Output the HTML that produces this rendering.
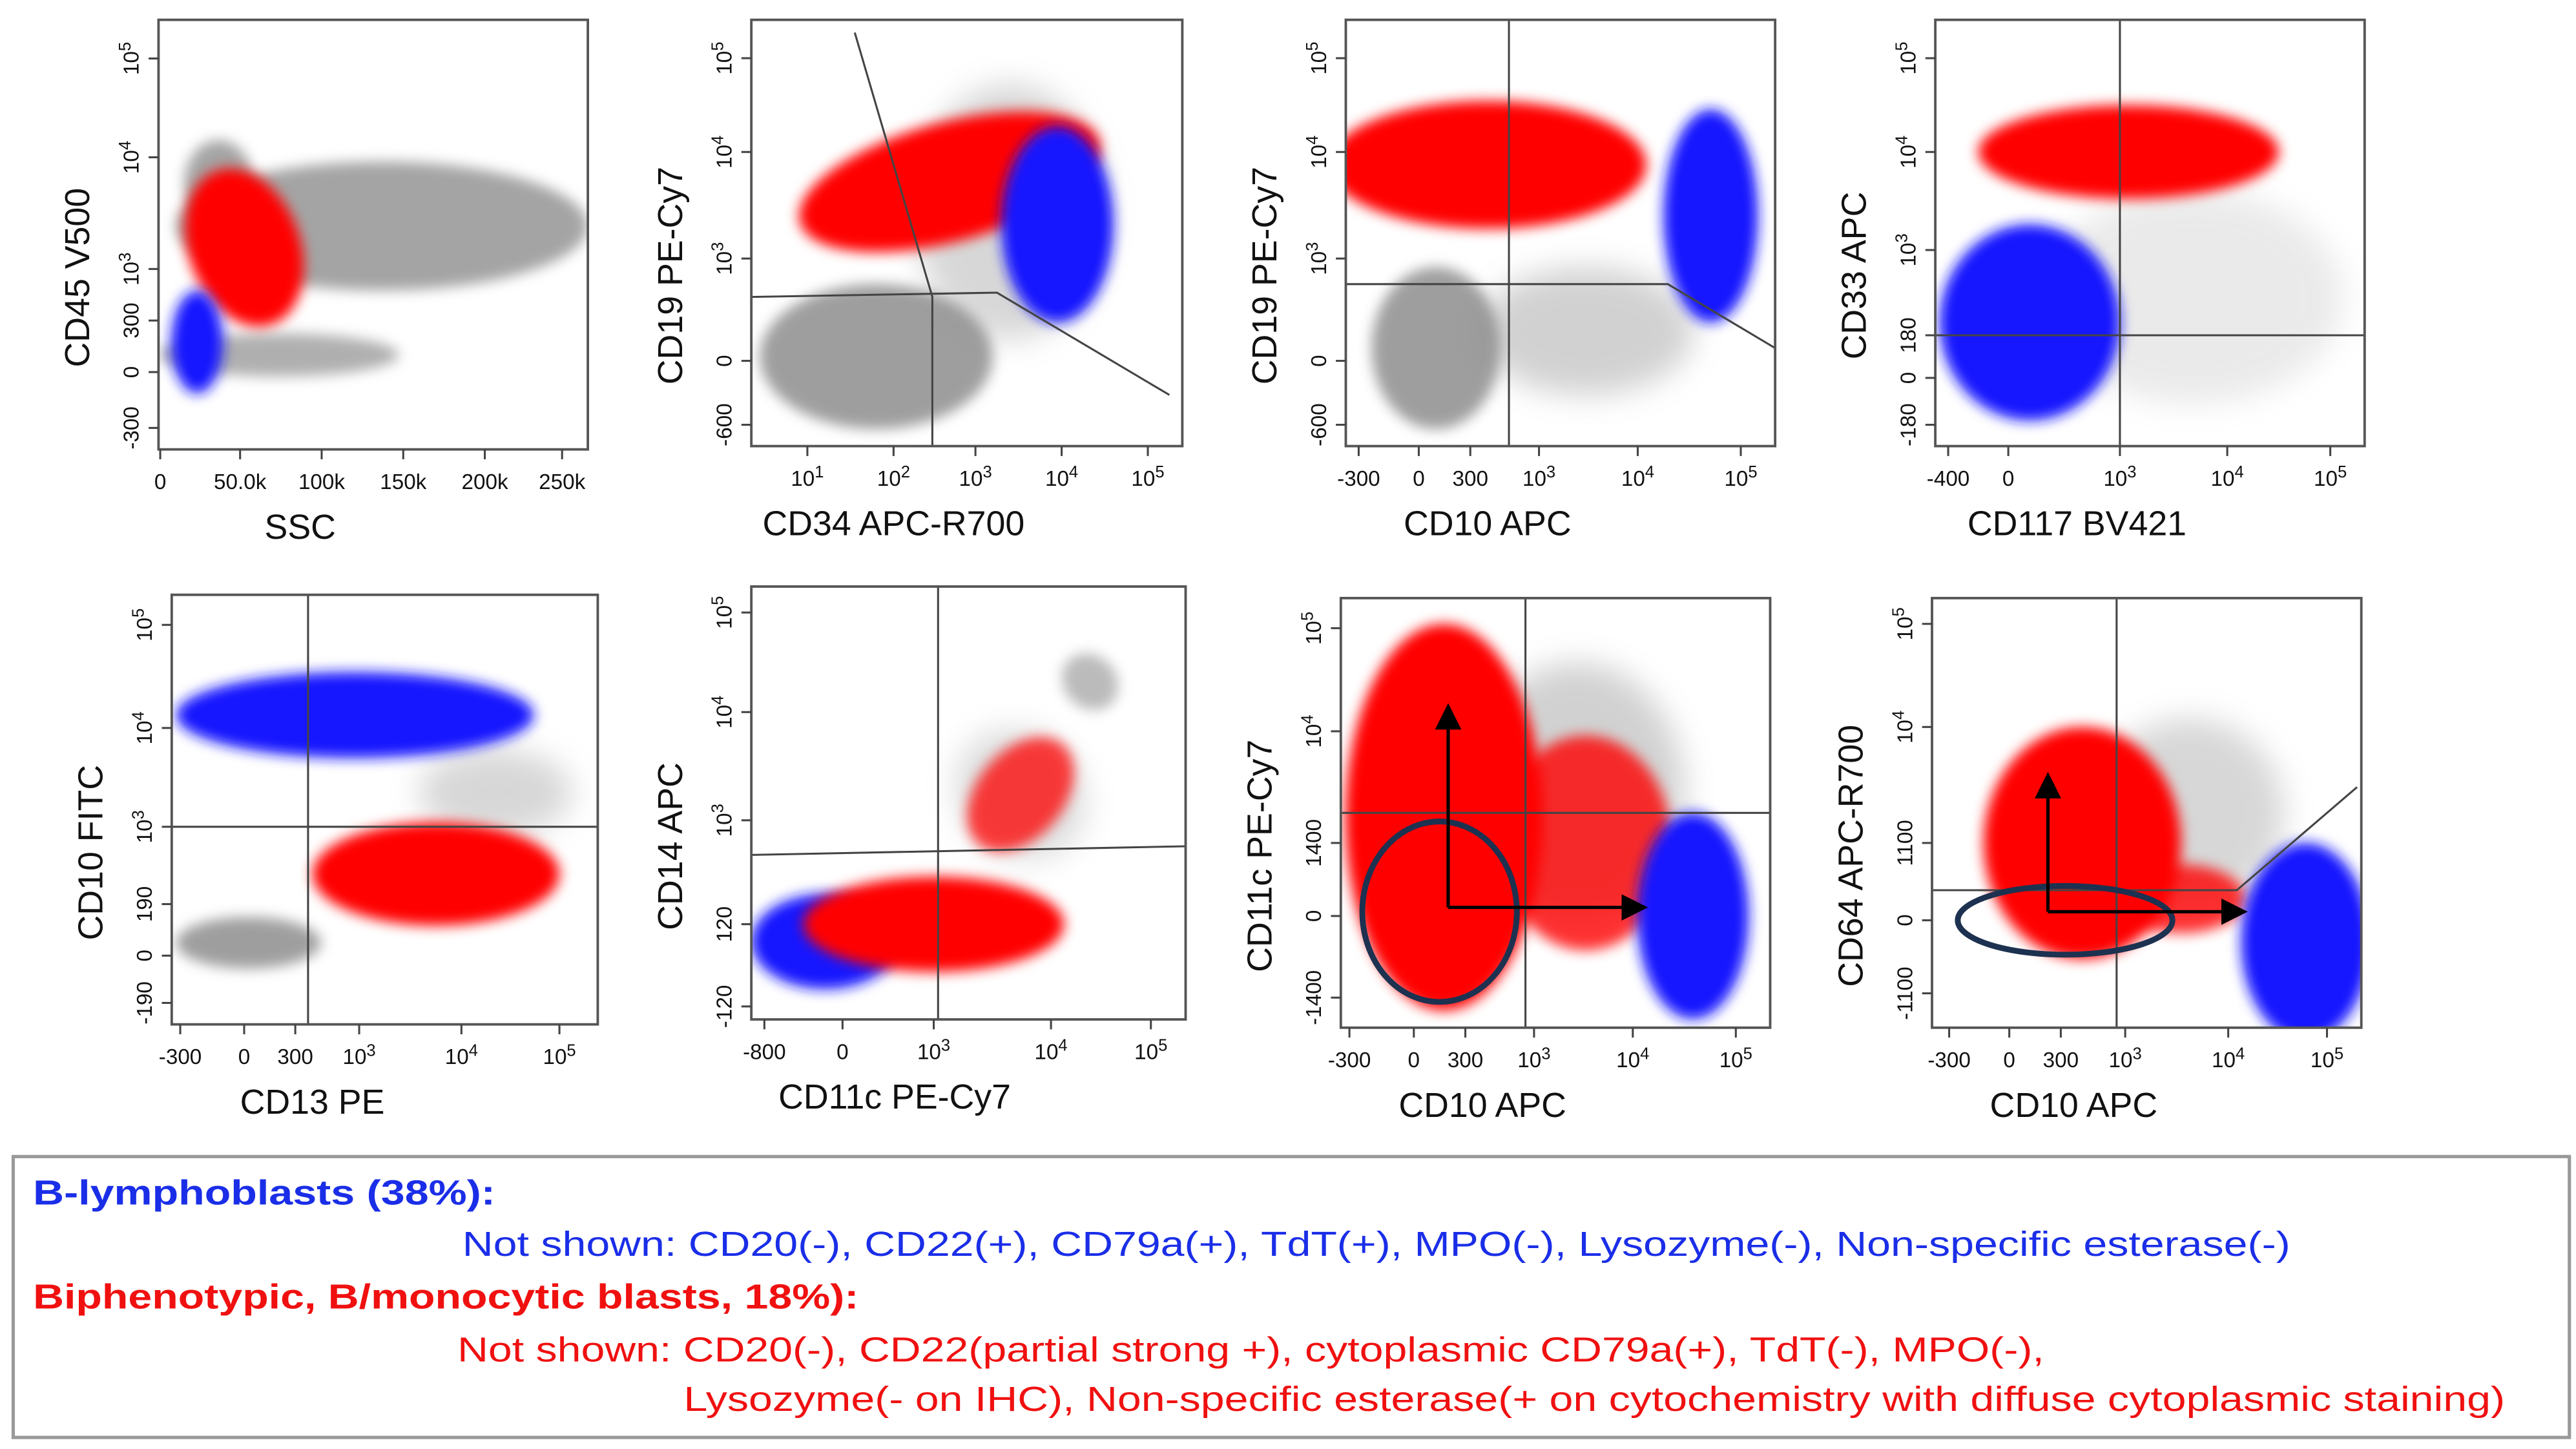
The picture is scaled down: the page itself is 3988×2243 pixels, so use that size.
<!DOCTYPE html>
<html><head><meta charset="utf-8"><style>
html,body{margin:0;padding:0;background:#fff;}
svg{display:block;}
text{font-family:"Liberation Sans",Arial,sans-serif;}
</style></head><body>
<svg id="fig" xmlns="http://www.w3.org/2000/svg" width="3988" height="2243" viewBox="0 0 1560 877" preserveAspectRatio="none">
<defs>
<filter id="blur" x="-50%" y="-50%" width="200%" height="200%"><feGaussianBlur stdDeviation="4"/></filter>
<filter id="blur2" x="-50%" y="-50%" width="200%" height="200%"><feGaussianBlur stdDeviation="9"/></filter>
<marker id="arr" markerWidth="8" markerHeight="8" refX="6" refY="4" orient="auto"><path d="M0,0 L8,4 L0,8 z" fill="#000"/></marker>
</defs>
<g id="plots"></g>
<g>
<rect x="8" y="700" width="1548" height="170" fill="#fff" stroke="#999" stroke-width="2"/>
<text x="20" y="729" font-size="21" font-weight="bold" fill="#1a2ee8" textLength="280" lengthAdjust="spacingAndGlyphs">B-lymphoblasts (38%):</text>
<text x="280" y="760" font-size="21" fill="#1a2ee8" textLength="1107" lengthAdjust="spacingAndGlyphs">Not shown: CD20(-), CD22(+), CD79a(+), TdT(+), MPO(-), Lysozyme(-), Non-specific esterase(-)</text>
<text x="20" y="792" font-size="21" font-weight="bold" fill="#f01010" textLength="500" lengthAdjust="spacingAndGlyphs">Biphenotypic, B/monocytic blasts, 18%):</text>
<text x="277" y="824" font-size="21" fill="#f01010" textLength="961" lengthAdjust="spacingAndGlyphs">Not shown: CD20(-), CD22(partial strong +), cytoplasmic CD79a(+), TdT(-), MPO(-),</text>
<text x="414" y="854" font-size="21" fill="#f01010" textLength="1103" lengthAdjust="spacingAndGlyphs">Lysozyme(- on IHC), Non-specific esterase(+ on cytochemistry with diffuse cytoplasmic staining)</text>
</g>
</svg>
<script>
// Panel boxes (layout) in display units
const panelBoxes = [[96,12,260,260],[455,12,261,258],[815,12,260,258],[1172,12,260,258],
  [104,360,258,260],[455,355,263,262],[812,362,260,260],[1170,362,260,260]];
const xTitles = ["SSC","CD34 APC-R700","CD10 APC","CD117 BV421","CD13 PE","CD11c PE-Cy7","CD10 APC","CD10 APC"];
const yTitles = ["CD45 V500","CD19 PE-Cy7","CD19 PE-Cy7","CD33 APC","CD10 FITC","CD14 APC","CD11c PE-Cy7","CD64 APC-R700"];
// tick positions in channel units (0-100) and labels ("^" = superscript)
const xTickPos = [[0.4,19,38,57,76,94],[13,33,52,72,92],[3,17,29,45,68,92],[3,17,43,68,92],[2,17,29,44,68,91],[3,21,42,69,92],[2,17,29,45,68,92],[4,18,30,45,69,92]];
const xTickLab = [["0","50.0k","100k","150k","200k","250k"],["10^1","10^2","10^3","10^4","10^5"],["-300","0","300","10^3","10^4","10^5"],["-400","0","10^3","10^4","10^5"],["-300","0","300","10^3","10^4","10^5"],["-800","0","10^3","10^4","10^5"],["-300","0","300","10^3","10^4","10^5"],["-300","0","300","10^3","10^4","10^5"]];
const yTickPos = [[91,68,42,30,18,5],[91,69,44,20,5],[91,69,44,20,5],[91,69,46,26,16,5],[93,69,46,28,16,5],[94,71,46,22,3],[93,69,43,26,7],[94,70,43,25,8]];
const yTickLab = [["10^5","10^4","10^3","300","0","-300"],["10^5","10^4","10^3","0","-600"],["10^5","10^4","10^3","0","-600"],["10^5","10^4","10^3","180","0","-180"],["10^5","10^4","10^3","190","0","-190"],["10^5","10^4","10^3","120","-120"],["10^5","10^4","1400","0","-1400"],["10^5","10^4","1100","0","-1100"]];
// clusters: panel, colour, centre, radii (channel units), rotation, opacity
const clusterPanel = [0,0,0,0,0, 1,1,1,1, 2,2,2,2, 3,3,3, 4,4,4,4, 5,5,5,5,5, 6,6,6,6, 7,7,7,7];
const clusterColor = ["g","g","g","r","b", "g","g","r","b", "g","g","r","b", "g","b","r", "g","g","r","b", "g","g","b","r","r", "g","r","r","b", "g","r","r","b"];
const clusterX = [52,28,14,20,9, 29,60,46,71, 21,56,33,85, 60,22,45, 18,76,62,43, 78,62,17,42,62, 55,24,57,82, 60,35,58,87];
const clusterY = [52,22,62,47,25, 21,55,62,52, 23,27,66,54, 35,29,69, 19,54,35,72, 78,52,18,22,52, 55,49,43,26, 50,43,30,20];
const clusterRX = [48,28,8,13,6, 27,22,36,13, 15,25,37,11, 35,21,35, 17,18,29,42, 6,14,17,30,15, 25,23,20,13, 22,23,15,15];
const clusterRY = [15,5,10,19,12, 17,30,14,23, 19,15,15,25, 25,23,11, 6,10,12,10, 7,16,11,11,10, 30,45,25,24, 22,27,8,23];
const clusterRot = [0,0,0,-20,0, 0,0,-15,0, 0,0,0,0, 0,0,0, 0,0,0,0, -45,-45,0,0,-50, 0,0,0,0, -30,0,0,0];
const clusterOp = [0.8,0.7,0.8,1,1, 0.85,0.35,1,1, 0.85,0.4,1,1, 0.18,1,1, 0.85,0.35,1,1, 0.6,0.3,1,1,0.75, 0.4,1,0.8,1, 0.35,1,0.8,1];
// gate lines per panel: polylines in channel units
const gatePanel = [1,1,2,2,3,3,4,4,5,5,6,6,7,7];
const gatePts = [[[24,97],[42,35],[42,0]],[[0,35],[57,36],[97,12]],[[38,0],[38,100]],[[0,38],[75,38],[100,23]],[[43,0],[43,100]],[[0,26],[100,26]],[[32,0],[32,100]],[[0,46],[100,46]],[[43,0],[43,100]],[[0,38],[100,40]],[[43,0],[43,100]],[[0,50],[100,50]],[[43,0],[43,100]],[[0,32],[71,32],[99,56]]];
// annotation ellipses and arrows
const ovalPanel = [6,7]; const ovalX=[23,31]; const ovalY=[27,25]; const ovalRX=[18,25]; const ovalRY=[21,8];
const arrowPanel=[6,6,7,7]; const arrowFrom=[[25,28],[25,28],[27,27],[27,27]]; const arrowTo=[[25,74],[70,28],[27,58],[72,27]];

const colors={g:"#8e8e8e",r:"#ff0000",b:"#1414ff"};
const NS="http://www.w3.org/2000/svg";
const root=document.getElementById('plots');
function mk(t,a,p){const e=document.createElementNS(NS,t);for(const k in a)e.setAttribute(k,a[k]);(p||root).appendChild(e);return e;}
function sx(p,v){const b=panelBoxes[p];return b[0]+v/100*b[2];}
function sy(p,v){const b=panelBoxes[p];return b[1]+b[3]-v/100*b[3];}
function setLabel(el,lab){const parts=lab.split('^');el.textContent=parts[0];if(parts[1]){const t=document.createElementNS(NS,'tspan');t.setAttribute('dy','-5');t.setAttribute('font-size','10');t.textContent=parts[1];el.appendChild(t);}}

panelBoxes.forEach((b,p)=>{
  const g=mk('g',{});
  
  
  const clip=mk('clipPath',{id:'c'+p},g);mk('rect',{x:b[0],y:b[1],width:b[2],height:b[3]},clip);
  const cg=mk('g',{'clip-path':'url(#c'+p+')'},g);
  clusterPanel.forEach((cp,i)=>{ if(cp!==p)return;
    const cx=sx(p,clusterX[i]),cy=sy(p,clusterY[i]);
    const e=mk('ellipse',{cx:cx,cy:cy,rx:clusterRX[i]/100*b[2],ry:clusterRY[i]/100*b[3],fill:colors[clusterColor[i]],opacity:clusterOp[i],filter:clusterOp[i]<0.5?'url(#blur2)':'url(#blur)',transform:'rotate('+clusterRot[i]+' '+cx+' '+cy+')'},cg);
    
    
  });
  gatePanel.forEach((gp,i)=>{ if(gp!==p)return;
    const l=mk('polyline',{points:gatePts[i].map(q=>sx(p,q[0])+','+sy(p,q[1])).join(' '),fill:'none',stroke:'#444','stroke-width':1.2},cg);
    
    
  });
  ovalPanel.forEach((op,i)=>{ if(op!==p)return;
    const o=mk('ellipse',{cx:sx(p,ovalX[i]),cy:sy(p,ovalY[i]),rx:ovalRX[i]/100*b[2],ry:ovalRY[i]/100*b[3],fill:'none',stroke:'#1d3150','stroke-width':3.5},g);
    
    
  });
  arrowPanel.forEach((ap,i)=>{ if(ap!==p)return;
    const a=mk('line',{x1:sx(p,arrowFrom[i][0]),y1:sy(p,arrowFrom[i][1]),x2:sx(p,arrowTo[i][0]),y2:sy(p,arrowTo[i][1]),stroke:'#000','stroke-width':2,'marker-end':'url(#arr)'},g);
    
    
  });
  const fr=mk('rect',{x:b[0],y:b[1],width:b[2],height:b[3],fill:'none',stroke:'#555','stroke-width':1.5},g);
  
  
  xTickPos[p].forEach((v,i)=>{
    const x=sx(p,v),y0=b[1]+b[3];
    mk('line',{x1:x,y1:y0,x2:x,y2:y0+6,stroke:'#444','stroke-width':1.2},g);
    const t=mk('text',{x:x,y:y0+24,'font-size':13,'text-anchor':'middle',fill:'#111'},g);
    
    
    setLabel(t,xTickLab[p][i]);
  });
  yTickPos[p].forEach((v,i)=>{
    const y=sy(p,v),x0=b[0];
    mk('line',{x1:x0-6,y1:y,x2:x0,y2:y,stroke:'#444','stroke-width':1.2},g);
    const t=mk('text',{x:0,y:0,'font-size':13,'text-anchor':'middle',fill:'#111',transform:'translate('+(x0-12)+' '+y+') rotate(-90)'},g);
    
    
    setLabel(t,yTickLab[p][i]);
  });
  const xt=mk('text',{x:b[0]+b[2]*0.33,y:b[1]+b[3]+54,'font-size':21,'text-anchor':'middle',fill:'#111'},g);
  
  
  xt.textContent=xTitles[p];
  const yt=mk('text',{x:0,y:0,'font-size':21,'text-anchor':'middle',fill:'#111',transform:'translate('+(b[0]-42)+' '+(b[1]+b[3]*0.6)+') rotate(-90)'},g);
  
  
  yt.textContent=yTitles[p];
});
</script>
</body></html>
